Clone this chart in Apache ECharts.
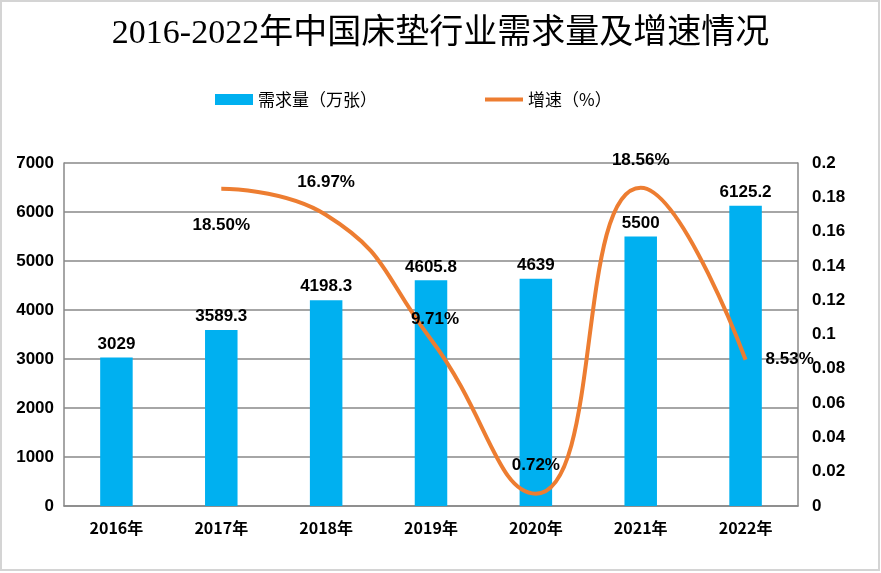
<!DOCTYPE html>
<html><head><meta charset="utf-8">
<script src="https://cdn.jsdelivr.net/npm/echarts@6/dist/echarts.min.js"></script>
<style>html,body{margin:0;padding:0;background:#fff}#c{width:881px;height:573px}</style>
</head><body><div id="c"></div>
<script>
const categories = ['2016年','2017年','2018年','2019年','2020年','2021年','2022年'];
const demand = [3029, 3589.3, 4198.3, 4605.8, 4639, 5500, 6125.2];
const growth = [null, 0.1850, 0.1697, 0.0971, 0.0072, 0.1856, 0.0853];
const growthLabels = ['', '18.50%', '16.97%', '9.71%', '0.72%', '18.56%', '8.53%'];
const leftTicks = [0, 1000, 2000, 3000, 4000, 5000, 6000, 7000];
const rightTicks = [0, 0.02, 0.04, 0.06, 0.08, 0.1, 0.12, 0.14, 0.16, 0.18, 0.2];

const labelPos = [
  null,
  {position:'bottom', distance:28},
  {position:'top', distance:24},
  {position:'top', distance:12, offset:[4,0]},
  {position:'top', distance:20},
  {position:'top', distance:19},
  {position:'right', distance:20}
];
const lineData = growth.map((v,i)=> v===null ? null : ({
  value: v,
  label: Object.assign({show:true, formatter: growthLabels[i]}, labelPos[i])
}));

const chart = echarts.init(document.getElementById('c'));
chart.setOption({
  animation:false,
  backgroundColor:'#fff',
  title:{text:'2016-2022年中国床垫行业需求量及增速情况', left:'center', top:12,
    textStyle:{fontFamily:'Liberation Serif, Noto Sans CJK SC', fontSize:34, fontWeight:'normal', color:'#000'}},
  legend:{top:86, left:210, itemGap:108, itemWidth:38, itemHeight:11,
    textStyle:{fontSize:17, color:'#000', fontFamily:'Noto Sans CJK SC'},
    data:[{name:'需求量（万张）', icon:'rect'}, {name:'增速（%）', icon:'path://M0,4 L38,4 L38,8 L0,8 Z', itemStyle:{color:'#ED7D31'}}]},
  grid:{left:64, right:83, top:163, bottom:67},
  xAxis:{type:'category', data:categories,
    axisLine:{lineStyle:{color:'#888', width:1.5}}, axisTick:{show:false},
    axisLabel:{color:'#000', fontWeight:'bold', fontSize:16, margin:14, fontFamily:'Noto Sans CJK SC'}},
  yAxis:[
    {type:'value', min:0, max:7000, interval:1000,
     axisLine:{show:true, lineStyle:{color:'#888', width:1.5}}, axisTick:{show:false},
     splitLine:{lineStyle:{color:'#888', width:1.5}},
     axisLabel:{color:'#000', fontWeight:'bold', fontSize:17, margin:10, fontFamily:'Liberation Sans',
       formatter:v=>String(v)}},
    {type:'value', min:0, max:0.2, interval:0.02,
     axisLine:{show:true, lineStyle:{color:'#888', width:1.5}}, axisTick:{show:false},
     splitLine:{show:false},
     axisLabel:{color:'#000', fontWeight:'bold', fontSize:17, margin:14, fontFamily:'Liberation Sans',
       formatter:v=>String(+v.toFixed(2))}}
  ],
  series:[
    {name:'需求量（万张）', type:'bar', data:demand, barWidth:'31%',
     itemStyle:{color:'#00B0F0'},
     label:{show:true, position:'top', distance:5, color:'#000', fontWeight:'bold', fontSize:17, fontFamily:'Liberation Sans'}},
    {name:'增速（%）', type:'line', yAxisIndex:1, data:lineData, smooth:0.5, showSymbol:true, symbol:'circle', symbolSize:0.1,
     connectNulls:false,
     lineStyle:{color:'#ED7D31', width:4}, itemStyle:{color:'#ED7D31'},
     label:{show:true, color:'#000', fontWeight:'bold', fontSize:17, fontFamily:'Liberation Sans'}}
  ],
  graphic:[{type:'rect', shape:{x:1, y:1, width:878, height:569}, style:{fill:'none', stroke:'#d4d4d4', lineWidth:2}, silent:true}]
});
</script></body></html>
